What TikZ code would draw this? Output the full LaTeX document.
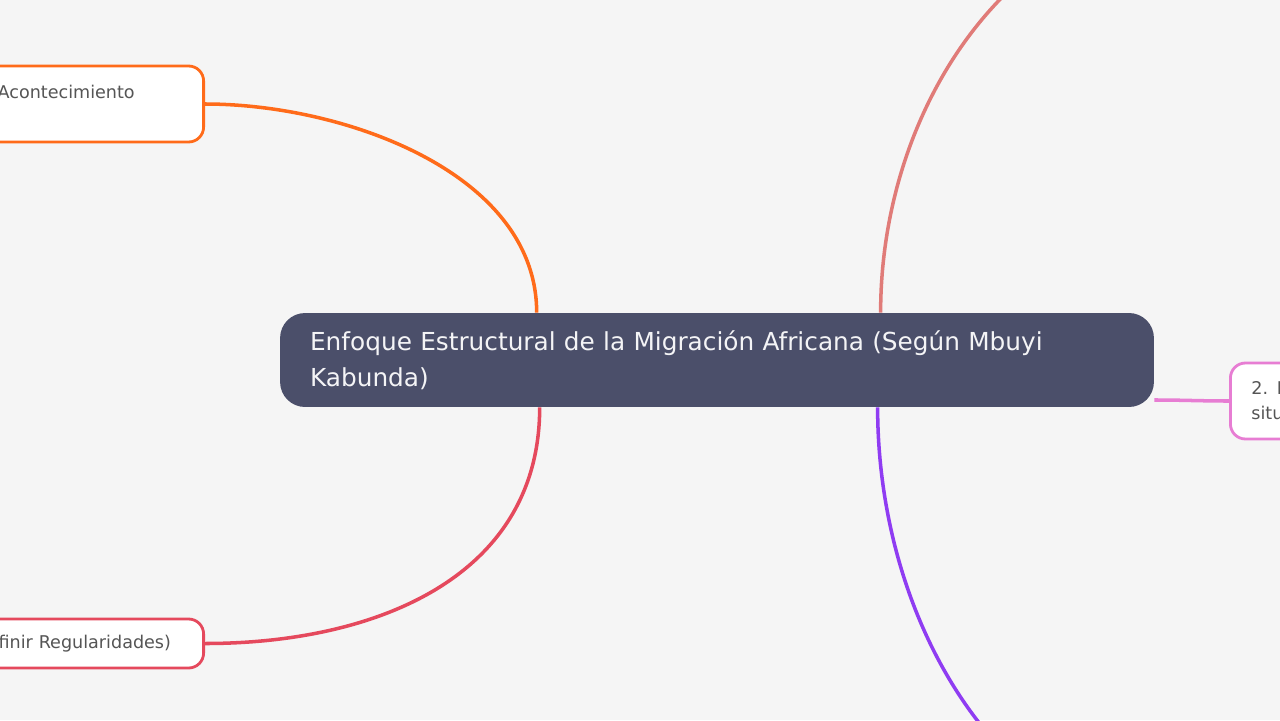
\documentclass[tikz,border=0pt]{standalone}
\usepackage{fontspec}
\setmainfont{DejaVu Sans}
\usetikzlibrary{calc}
\definecolor{paper}{HTML}{F5F5F5}
\definecolor{hubfill}{HTML}{4B4F6A}
\definecolor{hubtext}{HTML}{F4F4F6}
\definecolor{leaftext}{HTML}{555555}
\definecolor{orangeline}{HTML}{FF6B1A}
\definecolor{redline}{HTML}{E5495D}
\definecolor{salmonline}{HTML}{E07B78}
\definecolor{purpleline}{HTML}{8F3CF2}
\definecolor{pinkline}{HTML}{E77DD3}

\begin{document}
\begin{tikzpicture}[x=0.02cm,y=-0.02cm,
    leaf/.style={draw, line width=1.6pt, fill=white, rounded corners=0.3cm,
      text=leaftext, align=left, inner xsep=0.52cm, inner ysep=0pt,
      font=\fontsize{10}{14.2}\selectfont},
    link/.style={line width=2pt}]
  % Background of the page
  \fill [paper] (0,0) rectangle (1280,720);
  \useasboundingbox (0,0) rectangle (1280,720);

  % Marking the central topic
  \node [fill=hubfill, rounded corners=0.5cm, text=hubtext, align=left,
    text width=16.28cm, inner xsep=0.6cm, inner ysep=0pt, minimum height=1.88cm,
    font=\fontsize{14.1}{20.4}\selectfont] (hub) at (717,360)
    {Enfoque Estructural de la Migración Africana (Según Mbuyi\\Kabunda)};

  % Marking the leaves
  \node [leaf, draw=orangeline, anchor=east, text width=3.6cm,
    minimum height=1.52cm] (acont) at (205,104) {Acontecimiento\\~};
  \node [leaf, draw=redline, anchor=east, text width=3.58cm,
    minimum height=0.98cm] (regul) at (205,643.5) {finir Regularidades)};
  \node [leaf, draw=pinkline, anchor=west, text width=6cm, inner xsep=0.42cm,
    minimum height=1.52cm] (situ) at (1229,401) {2. I\\situ};

  % Leaves lying outside the page
  \coordinate (upleaf) at (1229,-100);
  \coordinate (lowleaf) at (1229,850);

  % Drawing the branches
  \draw [link, orangeline] (acont.east) to [out=0, in=90, looseness=0.91]
    ([xshift=5.14cm]hub.north west);
  \draw [link, redline] (regul.east) to [out=0, in=-90, looseness=1.06]
    ([xshift=5.2cm]hub.south west);
  \draw [link, salmonline] ([xshift=12.02cm]hub.north west)
    to [out=90, in=180] (upleaf);
  \draw [link, purpleline] ([xshift=11.96cm]hub.south west)
    to [out=-90, in=180] (lowleaf);
  \draw [link, pinkline] ([yshift=-0.8cm]hub.east) to [out=0, in=180] (situ.west);
\end{tikzpicture}
\end{document}
